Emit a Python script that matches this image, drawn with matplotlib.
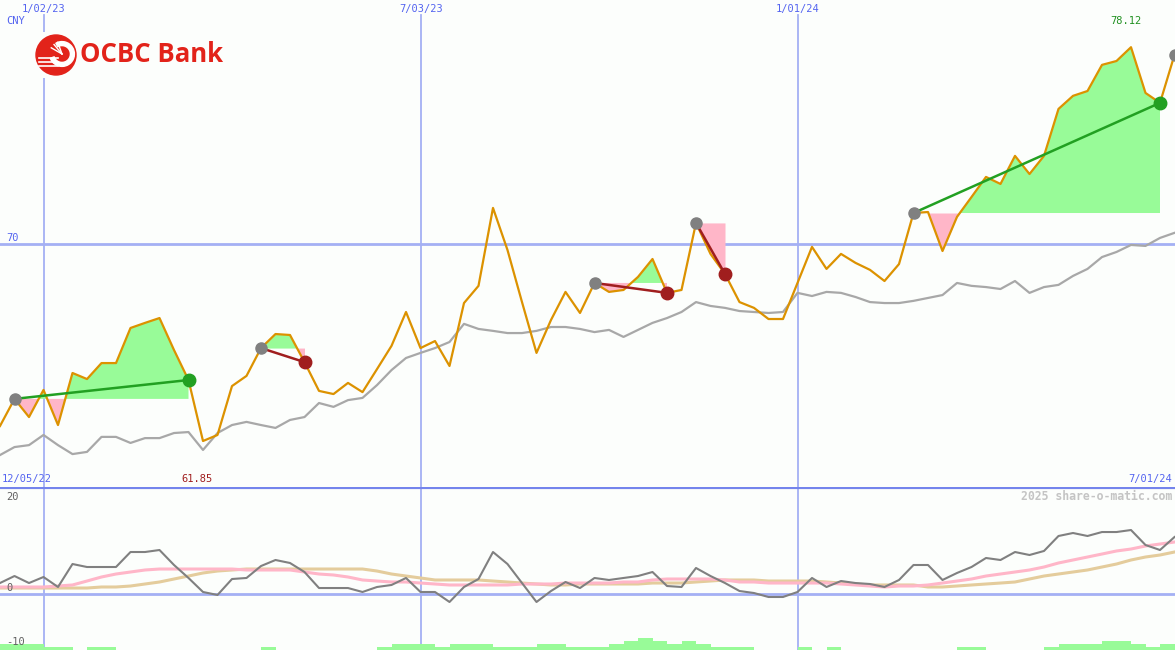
import matplotlib
matplotlib.use('Agg')
import matplotlib.pyplot as plt
import matplotlib.patches as mpatches
import numpy as np
import pandas as pd

# weekly closes, CNY
dates = pd.date_range('2022-12-12', periods=82, freq='7D')

price = [62.47, 63.59, 62.84, 63.96, 62.51, 64.66, 64.41, 65.07, 65.07, 66.52,
         66.73, 66.93, 65.61, 64.37, 61.85, 62.10, 64.12, 64.54, 65.69, 66.27,
         66.23, 65.11, 63.92, 63.79, 64.25, 63.87, 64.82, 65.78, 67.18, 65.69,
         65.98, 64.95, 67.55, 68.26, 71.48, 69.74, 67.59, 65.49, 66.85, 68.01,
         67.14, 68.38, 68.01, 68.09, 68.63, 69.37, 67.97, 68.09, 70.86, 69.58,
         68.75, 67.59, 67.35, 66.89, 66.89, 68.38, 69.87, 68.96, 69.58, 69.21,
         68.92, 68.46, 69.16, 71.27, 71.31, 69.70, 71.11, 71.93, 72.76, 72.47,
         73.63, 72.88, 73.63, 75.57, 76.11, 76.31, 77.39, 77.55, 78.12, 76.23,
         75.82, 77.80]

relative = [61.27, 61.60, 61.68, 62.10, 61.68, 61.31, 61.40, 62.02, 62.02, 61.77,
            61.97, 61.97, 62.18, 62.22, 61.48, 62.18, 62.51, 62.64, 62.51, 62.39,
            62.72, 62.84, 63.42, 63.26, 63.54, 63.63, 64.16, 64.78, 65.28, 65.49,
            65.69, 65.94, 66.69, 66.48, 66.40, 66.31, 66.31, 66.40, 66.56, 66.56,
            66.48, 66.35, 66.44, 66.15, 66.44, 66.73, 66.93, 67.18, 67.59, 67.43,
            67.35, 67.22, 67.18, 67.14, 67.18, 67.97, 67.84, 68.01, 67.97, 67.80,
            67.59, 67.55, 67.55, 67.64, 67.76, 67.88, 68.38, 68.26, 68.21, 68.13,
            68.46, 67.97, 68.21, 68.30, 68.67, 68.96, 69.45, 69.66, 69.95, 69.91,
            70.24, 70.45]

momentum = [2.24, 3.67, 2.24, 3.47, 1.43, 6.12, 5.51, 5.51, 5.51, 8.57,
            8.57, 8.98, 5.92, 3.27, 0.41, -0.20, 3.06, 3.27, 5.71, 6.94,
            6.33, 4.49, 1.22, 1.22, 1.22, 0.41, 1.43, 1.84, 3.27, 0.41,
            0.41, -1.63, 1.43, 3.06, 8.57, 6.12, 2.24, -1.63, 0.61, 2.45,
            1.22, 3.27, 2.86, 3.27, 3.67, 4.49, 1.63, 1.43, 5.31, 3.67,
            2.24, 0.61, 0.20, -0.61, -0.61, 0.41, 3.27, 1.43, 2.65, 2.24,
            2.04, 1.43, 2.86, 5.92, 5.92, 2.86, 4.29, 5.51, 7.35, 6.94,
            8.57, 7.96, 8.78, 11.84, 12.45, 11.84, 12.65, 12.65, 13.06, 10.00,
            8.98, 11.63]

avg_fast = [1.43, 1.43, 1.43, 1.43, 1.63, 1.84, 2.65, 3.47, 4.08, 4.49,
            4.90, 5.10, 5.10, 5.10, 5.10, 5.10, 5.10, 4.90, 4.90, 4.90,
            4.90, 4.49, 4.08, 3.88, 3.47, 2.86, 2.65, 2.45, 2.45, 2.24,
            2.04, 1.84, 1.84, 1.84, 1.84, 1.84, 2.04, 2.04, 2.04, 2.24,
            2.24, 2.24, 2.24, 2.45, 2.45, 2.86, 3.06, 3.06, 3.06, 3.06,
            2.86, 2.45, 2.45, 2.24, 2.24, 2.24, 2.24, 2.24, 2.04, 1.84,
            1.63, 1.43, 1.63, 1.63, 1.84, 2.24, 2.65, 3.06, 3.67, 4.08,
            4.49, 4.90, 5.51, 6.33, 6.94, 7.55, 8.16, 8.78, 9.18, 9.80,
            10.20, 10.61]

avg_slow = [1.22, 1.22, 1.22, 1.22, 1.22, 1.22, 1.22, 1.43, 1.43, 1.63,
            2.04, 2.45, 3.06, 3.67, 4.29, 4.69, 4.90, 5.10, 5.10, 5.10,
            5.10, 5.10, 5.10, 5.10, 5.10, 5.10, 4.69, 4.08, 3.67, 3.27,
            2.86, 2.86, 2.86, 2.86, 2.65, 2.45, 2.24, 2.04, 1.84, 1.84,
            2.04, 2.04, 2.04, 2.04, 2.04, 2.24, 2.24, 2.24, 2.45, 2.65,
            2.86, 2.86, 2.86, 2.65, 2.65, 2.65, 2.65, 2.45, 2.24, 2.04,
            1.84, 1.84, 1.84, 1.84, 1.43, 1.43, 1.63, 1.84, 2.04, 2.24,
            2.45, 3.06, 3.67, 4.08, 4.49, 4.90, 5.51, 6.12, 6.94, 7.55,
            7.96, 8.57]

volume = [1.2, 1.2, 1.2, 0.6, 0.6, 0, 0.6, 0.6, 0, 0,
          0, 0, 0, 0, 0, 0, 0, 0, 0.6, 0,
          0, 0, 0, 0, 0, 0, 0.6, 1.2, 1.2, 1.2,
          0.6, 1.2, 1.2, 1.2, 0.6, 0.6, 0.6, 1.2, 1.2, 0.6,
          0.6, 0.6, 1.2, 1.8, 2.4, 1.8, 1.2, 1.8, 1.2, 0.6,
          0.6, 0.6, 0, 0, 0, 0.6, 0, 0.6, 0, 0,
          0, 0, 0, 0, 0, 0, 0.6, 0.6, 0, 0,
          0, 0, 0.6, 1.2, 1.2, 1.2, 1.8, 1.8, 1.2, 0.6,
          1.2, 0]

# trend runs: (start week, end week)
runs = [(1, 13), (18, 21), (41, 46), (48, 50), (63, 80)]

bg = '#FCFEFC'
grid = '#A4B0F4'
blue = '#5464F0'
W, H = 1175, 650
mono = 'DejaVu Sans Mono'


def fx(x):
    return x / W


def fy(y):
    return 1 - y / H


price = np.array(price)
fig = plt.figure(figsize=(W / 100, H / 100), dpi=100, facecolor=bg)
split = 487
ax1 = fig.add_axes([0, fy(split), 1, 1 - fy(split)])
ax2 = fig.add_axes([0, 0, 1, fy(split)])
xmax = dates[0] + pd.Timedelta(weeks=W / 14.5)
for ax in (ax1, ax2):
    ax.set_facecolor(bg)
    ax.set_xlim(dates[0], xmax)
    for s in ax.spines.values():
        s.set_visible(False)
    ax.set_xticks([])
    ax.set_yticks([])

ax1.set_ylim(59.95, 80.07)
ax2.set_ylim(-11.43, 21.84)

# grid
for d in ['2023-01-02', '2023-07-03', '2024-01-01']:
    ax1.axvline(pd.Timestamp(d), ymax=1 - 15 / split, color=grid, lw=1.3, zorder=1)
    ax2.axvline(pd.Timestamp(d), color=grid, lw=1.3, zorder=1)
ax1.axhline(70, color=grid, lw=2, zorder=1)
ax2.axhline(0, color=grid, lw=2, zorder=1)
ax2.axhline(21.84, color='#7484EC', lw=3, zorder=5)

# trend fills
for s, e in runs:
    xs = dates[s:e + 1]
    ys = price[s:e + 1]
    lvl = price[s]
    ax1.fill_between(xs, ys, lvl, where=ys >= lvl, interpolate=True, color='#98FB98', lw=0, zorder=2)
    ax1.fill_between(xs, ys, lvl, where=ys < lvl, interpolate=True, color='#FFB6C8', lw=0, zorder=2)

ax1.plot(dates, relative, color='#A8A8A8', lw=1.6, zorder=3)
ax1.plot(dates, price, color='#DC9200', lw=1.6, zorder=4)

for s, e in runs:
    up = price[e] > price[s]
    c = '#22A022' if up else '#A01E1E'
    ax1.plot([dates[s], dates[e]], [price[s], price[e]], color=c, lw=1.8, zorder=5)
    ax1.plot(dates[s], price[s], 'o', color='#808080', ms=8, zorder=6)
    ax1.plot(dates[e], price[e], 'o', color=c, ms=9, zorder=6)
ax1.plot(dates[-1], price[-1], 'o', color='#808080', ms=8, zorder=6)

# lower panel
ax2.bar(dates, volume, width=7, bottom=-11.43, align='edge', color='#98FB98', lw=0, zorder=1)
ax2.plot(dates, avg_slow, color='#E4CC9C', lw=2.2, zorder=2)
ax2.plot(dates, avg_fast, color='#FFB6C8', lw=2.2, zorder=3)
ax2.plot(dates, momentum, color='#808080', lw=1.5, zorder=4)

# labels
fig.text(fx(6), fy(21), 'CNY', color=blue, family=mono, fontsize=7.5, va='center')
for lbl, x in [('1/02/23', 44), ('7/03/23', 421), ('1/01/24', 798)]:
    fig.text(fx(x), fy(9), lbl, color=blue, family=mono, fontsize=7.5, va='center', ha='center')
fig.text(fx(6), fy(238), '70', color=blue, family=mono, fontsize=7.5, va='center')
fig.text(fx(2), fy(479), '12/05/22', color=blue, family=mono, fontsize=7.5, va='center')
fig.text(fx(1172), fy(479), '7/01/24', color=blue, family=mono, fontsize=7.5, va='center', ha='right')
fig.text(fx(197), fy(479), '%.2f' % price.min(), color='#A01E1E', family=mono, fontsize=7.5,
         va='center', ha='center')
fig.text(fx(1126), fy(21), '%.2f' % price.max(), color='#209020', family=mono, fontsize=7.5,
         va='center', ha='center')
fig.text(fx(1172), fy(497), '2025 share-o-matic.com', color='#C4C4C4', family=mono,
         fontsize=8.3, fontweight='bold', va='center', ha='right')
for lbl, y in [('20', 497), ('0', 588), ('-10', 642)]:
    fig.text(fx(6), fy(y), lbl, color='#606060', family=mono, fontsize=7.5, va='center')

# logo
lg = fig.add_axes([fx(33), fy(78), 46 / W, 46 / H])
lg.set_xlim(-1.15, 1.15)
lg.set_ylim(-1.15, 1.15)
lg.set_facecolor(bg)
for s in lg.spines.values():
    s.set_visible(False)
lg.set_xticks([])
lg.set_yticks([])
red = '#E2231A'
lg.add_patch(mpatches.Circle((0, 0), 1.0, color=red))
lg.add_patch(mpatches.Wedge((0.3, 0.05), 0.62, -160, 120, width=0.2, color='white'))
for yy in [-0.15, -0.35, -0.55]:
    lg.plot([-0.85, 0.1], [yy, yy], color='white', lw=1.2)
for a in [110, 130, 150]:
    r = np.radians(a)
    lg.plot([0.3, 0.3 + 0.62 * np.cos(r)], [0.05, 0.05 + 0.62 * np.sin(r)], color='white', lw=1)
fig.text(fx(80), fy(55), 'OCBC Bank', color=red, family='Open Sans', fontweight='bold',
         fontsize=18.5, va='center')

fig.savefig('out.png', dpi=100, facecolor=bg)
